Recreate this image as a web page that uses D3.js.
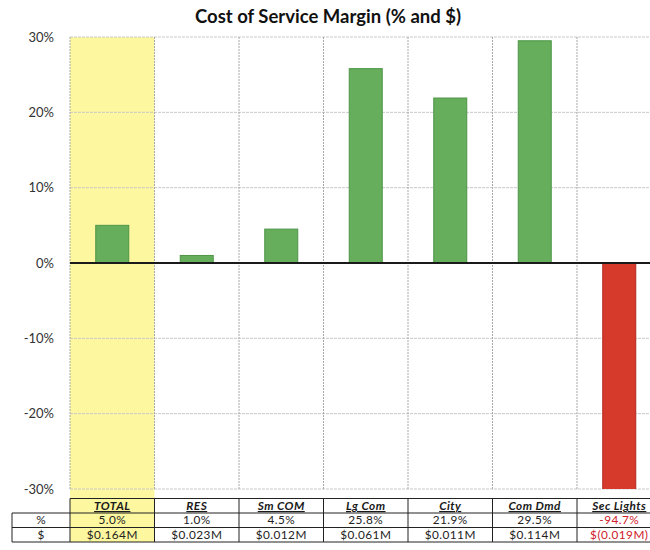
<!DOCTYPE html>
<html>
<head>
<meta charset="utf-8">
<script src="https://cdn.jsdelivr.net/npm/d3@7"></script>
<style>
  html, body { margin: 0; padding: 0; background: #fff; }
  svg { display: block; font-family: Lato, "Open Sans", sans-serif; }
</style>
</head>
<body>
<svg id="chart" width="650" height="550"></svg>
<script>
// Rate classes and their cost-of-service margins
const categories = ["TOTAL", "RES", "Sm COM", "Lg Com", "City", "Com Dmd", "Sec Lights"];
const marginPct = [5.0, 1.0, 4.5, 25.8, 21.9, 29.5, -94.7];
const marginDollars = ["$0.164M", "$0.023M", "$0.012M", "$0.061M", "$0.011M", "$0.114M", "$(0.019M)"];
const yTicks = [-30, -20, -10, 0, 10, 20, 30];

const svg = d3.select("#chart");
const W = 650;

const plotLeft = 70, plotTop = 37, plotBottom = 489;
const colW = 84.5;

const x = d3.scaleBand()
  .domain(categories)
  .range([plotLeft, plotLeft + colW * categories.length])
  .padding(0);

const y = d3.scaleLinear().domain([-30, 30]).range([plotBottom, plotTop]);

// Table rows
const rowHeader = [498.5, 513];
const rowPct = [513, 527.5];
const rowDol = [527.5, 542];

// Highlight the TOTAL column through plot and table
svg.append("rect")
  .attr("x", x("TOTAL"))
  .attr("y", plotTop)
  .attr("width", x.bandwidth())
  .attr("height", rowDol[1] - plotTop)
  .attr("fill", "#fdf7a0");

// Title
svg.append("text")
  .attr("x", 328).attr("y", 23)
  .attr("text-anchor", "middle")
  .attr("font-size", 18.5)
  .attr("font-weight", 700)
  .attr("fill", "#111")
  .text("Cost of Service Margin (% and $)");

// Horizontal gridlines
svg.append("g")
  .selectAll("line")
  .data(yTicks)
  .join("line")
  .attr("x1", plotLeft).attr("x2", W)
  .attr("y1", d => y(d)).attr("y2", d => y(d))
  .attr("stroke", "#c8c8c8")
  .attr("stroke-width", 1)
  .attr("stroke-dasharray", "3,1");

// Vertical gridlines between categories
const bounds = categories.map(c => x(c)).concat([x.range()[1]]);
svg.append("g")
  .selectAll("line")
  .data(bounds)
  .join("line")
  .attr("x1", d => d).attr("x2", d => d)
  .attr("y1", plotTop).attr("y2", plotBottom)
  .attr("stroke", "#a8a8a8")
  .attr("stroke-width", 1)
  .attr("stroke-dasharray", "2,1");

// Y axis tick labels
const yAxis = d3.axisLeft(y).tickValues(yTicks).tickSize(0).tickFormat(d => d + "%");
const yg = svg.append("g").attr("transform", `translate(${plotLeft - 13},0)`).call(yAxis);
yg.select(".domain").remove();
yg.selectAll("text")
  .attr("font-size", 13)
  .attr("font-family", "Lato, 'Open Sans', sans-serif")
  .attr("fill", "#333");

// Bars, clipped to the plot area
svg.append("clipPath").attr("id", "plotClip")
  .append("rect")
  .attr("x", plotLeft).attr("y", plotTop)
  .attr("width", W - plotLeft).attr("height", plotBottom - plotTop);

const barW = 33;
svg.append("g")
  .attr("clip-path", "url(#plotClip)")
  .selectAll("rect")
  .data(categories.map((c, i) => ({ c, v: marginPct[i] })))
  .join("rect")
  .attr("x", d => x(d.c) + x.bandwidth() / 2 - barW / 2)
  .attr("y", d => y(Math.max(0, d.v)))
  .attr("width", barW)
  .attr("height", d => Math.abs(y(d.v) - y(0)))
  .attr("fill", d => d.v >= 0 ? "#66ae5c" : "#d63a2b")
  .attr("stroke", d => d.v >= 0 ? "#4d9546" : "#b02a1e")
  .attr("stroke-width", 1);

// Zero baseline
svg.append("line")
  .attr("x1", plotLeft).attr("x2", W)
  .attr("y1", y(0)).attr("y2", y(0))
  .attr("stroke", "#1a1a1a")
  .attr("stroke-width", 2);

// Data table below the plot
const table = svg.append("g");
const tableRight = x.range()[1];
const labelLeft = 12;
const cellFont = 11.8;
const cellSpacing = 0.45;

// horizontal table borders
[[plotLeft, rowHeader[0]], [labelLeft, rowPct[0]], [labelLeft, rowDol[0]], [labelLeft, rowDol[1]]]
  .forEach(([x0, yy]) => {
    table.append("line")
      .attr("x1", x0).attr("x2", tableRight)
      .attr("y1", yy).attr("y2", yy)
      .attr("stroke", "#222").attr("stroke-width", 1);
  });

// vertical table borders
table.append("line")
  .attr("x1", labelLeft).attr("x2", labelLeft)
  .attr("y1", rowPct[0]).attr("y2", rowDol[1])
  .attr("stroke", "#222");
table.selectAll("line.col")
  .data(bounds)
  .join("line")
  .attr("class", "col")
  .attr("x1", d => d).attr("x2", d => d)
  .attr("y1", rowHeader[0]).attr("y2", rowDol[1])
  .attr("stroke", "#222");

// cell text helper: vertically centred in its row
function cellY(row) { return (row[0] + row[1]) / 2; }

// row labels
const cx0 = (labelLeft + plotLeft) / 2;
[["%", rowPct], ["$", rowDol]].forEach(([t, row]) => {
  table.append("text").attr("x", cx0).attr("y", cellY(row))
    .attr("dy", "0.36em")
    .attr("text-anchor", "middle").attr("font-size", cellFont).attr("fill", "#222").text(t);
});

// header cells
table.selectAll("text.hdr")
  .data(categories)
  .join("text")
  .attr("class", "hdr")
  .attr("x", d => x(d) + x.bandwidth() / 2)
  .attr("y", cellY(rowHeader))
  .attr("dy", "0.36em")
  .attr("text-anchor", "middle")
  .attr("font-size", cellFont)
  .attr("letter-spacing", cellSpacing)
  .attr("font-style", "italic")
  .attr("font-weight", 700)
  .attr("text-decoration", "underline")
  .attr("fill", "#1a1a1a")
  .text(d => d);

// percentage cells
table.selectAll("text.pct")
  .data(categories.map((c, i) => ({ c, v: marginPct[i] })))
  .join("text")
  .attr("class", "pct")
  .attr("x", d => x(d.c) + x.bandwidth() / 2)
  .attr("y", cellY(rowPct))
  .attr("dy", "0.36em")
  .attr("text-anchor", "middle")
  .attr("font-size", cellFont)
  .attr("letter-spacing", cellSpacing)
  .attr("fill", d => d.v < 0 ? "#d0202a" : "#222")
  .text(d => d.v.toFixed(1) + "%");

// dollar cells
table.selectAll("text.dol")
  .data(categories.map((c, i) => ({ c, s: marginDollars[i], neg: marginPct[i] < 0 })))
  .join("text")
  .attr("class", "dol")
  .attr("x", d => x(d.c) + x.bandwidth() / 2)
  .attr("y", cellY(rowDol))
  .attr("dy", "0.36em")
  .attr("text-anchor", "middle")
  .attr("font-size", cellFont)
  .attr("letter-spacing", cellSpacing)
  .attr("fill", d => d.neg ? "#d0202a" : "#222")
  .text(d => d.s);
</script>
</body>
</html>
